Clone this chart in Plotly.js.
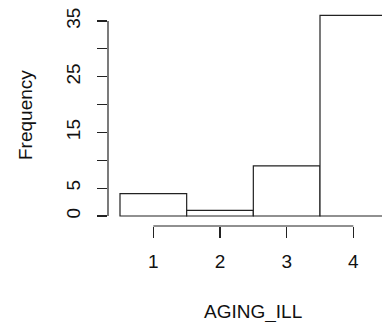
<!DOCTYPE html>
<html><head><meta charset="utf-8">
<script src="https://cdn.plot.ly/plotly-3.0.1.min.js"></script>
<style>html,body{margin:0;padding:0;background:#fff}#plot{width:382px;height:322px}</style>
</head><body><div id="plot"></div>
<script>
const binCenters = [1, 2, 3, 4];
const counts = [4, 1, 9, 36];
const xTickVals = [1, 2, 3, 4];
const xTickText = ['1', '2', '3', '4'];
const yTickVals = [0, 5, 10, 15, 20, 25, 30, 35];
const yTickText = ['0', '5', '', '15', '', '25', '', '35'];
const xLabel = 'AGING_ILL';
const yLabel = 'Frequency';

const font = {family: 'Liberation Sans, Arial, sans-serif', size: 19, color: '#111'};
const trace = {
  type: 'bar', x: binCenters, y: counts, width: 1,
  marker: {color: '#fff', line: {color: '#222', width: 1.2}},
  hoverinfo: 'none'
};
const layout = {
  width: 382, height: 322,
  margin: {l: 108, r: 0, t: 10, b: 96, pad: 0},
  paper_bgcolor: '#fff', plot_bgcolor: '#fff',
  showlegend: false, font: font,
  xaxis: {range: [0.32, 4.43], tickvals: xTickVals, ticktext: xTickText,
    ticks: 'outside', ticklen: 11, tickwidth: 1.2, tickcolor: '#222',
    showgrid: false, zeroline: false, showline: false, ticklabelstandoff: 7,
    tickfont: font, fixedrange: true},
  yaxis: {range: [-1.795, 36.98], tickvals: yTickVals, ticktext: yTickText,
    ticks: 'outside', ticklen: 10, tickwidth: 1.2, tickcolor: '#222',
    showgrid: false, zeroline: false, showline: false, tickangle: -90,
    ticklabelstandoff: 9, tickfont: font, fixedrange: true},
  shapes: [
    {type: 'line', xref: 'x', yref: 'paper', x0: Math.min(...xTickVals), x1: Math.max(...xTickVals), y0: 0, y1: 0, line: {color: '#222', width: 1.2}},
    {type: 'line', xref: 'paper', yref: 'y', x0: 0, x1: 0, y0: Math.min(...yTickVals), y1: Math.max(...yTickVals), line: {color: '#222', width: 1.2}}
  ],
  annotations: [
    {text: xLabel, xref: 'x', yref: 'paper', x: 2.5, y: 0, yanchor: 'middle', yshift: -86, showarrow: false, font: font},
    {text: yLabel, xref: 'paper', yref: 'paper', x: 0, y: 0.5, xanchor: 'center', yanchor: 'middle', xshift: -83, yshift: 3, textangle: -90, showarrow: false, font: font}
  ]
};
Plotly.newPlot('plot', [trace], layout, {staticPlot: true, displayModeBar: false});
</script></body></html>
